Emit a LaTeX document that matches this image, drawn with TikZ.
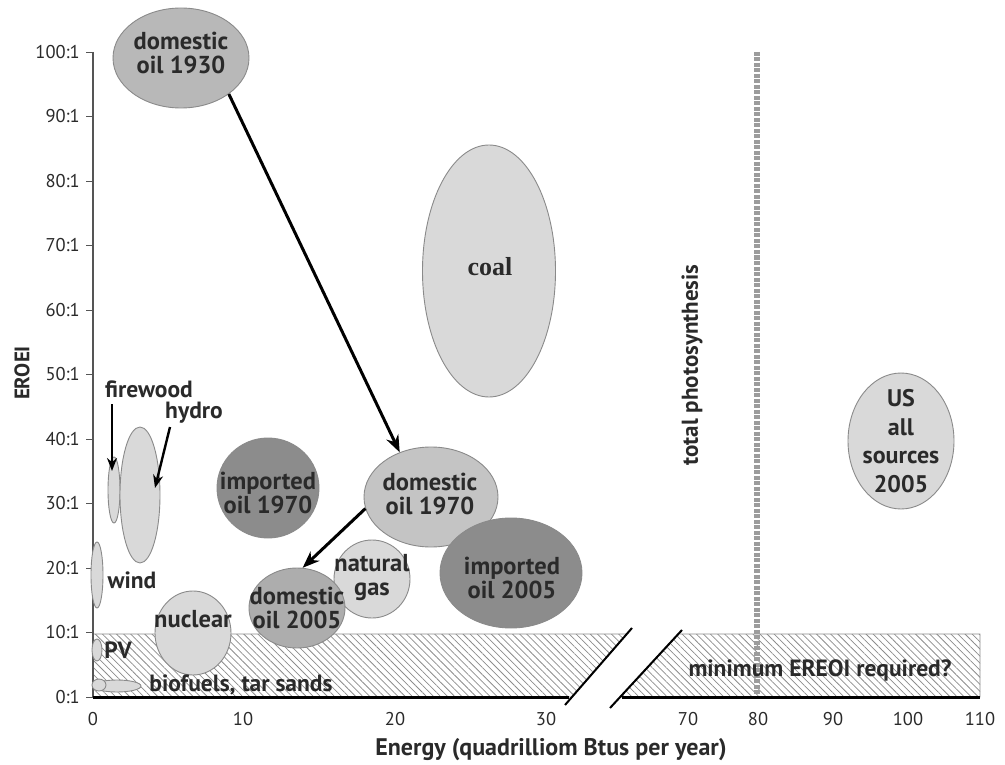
\documentclass[tikz,border=0pt]{standalone}
\usepackage{fontspec}
\setmainfont{PT Sans}
\newfontfamily\coalfont{Liberation Serif}
\usetikzlibrary{patterns.meta,arrows.meta,shapes.geometric}
\definecolor{edge}{HTML}{8A8A8A}
\definecolor{txt}{HTML}{2A2A2A}
\definecolor{light}{HTML}{D9D9D9}
\definecolor{mid}{HTML}{B8B8B8}
\definecolor{midb}{HTML}{C4C4C4}
\definecolor{midc}{HTML}{ADADAD}
\definecolor{dark}{HTML}{8C8C8C}
\definecolor{axisgray}{HTML}{555555}
\definecolor{hatchgray}{HTML}{8C8C8C}
\definecolor{dashgray}{HTML}{9C9C9C}
\tikzset{
  blob/.style={ellipse, draw=edge, line width=0.9pt, inner sep=0pt},
  lab/.style={font=\bfseries\fontsize{24.5}{24}\selectfont, align=center, text=txt, inner sep=0pt},
  olab/.style={font=\bfseries\fontsize{23.5}{24}\selectfont, text=txt, inner sep=0pt},
  tick/.style={font=\fontsize{18.5}{20}\selectfont, text=txt, inner sep=0pt},
  arr/.style={line width=3pt, -{Stealth[length=17pt,width=13pt]}},
  sarr/.style={line width=2.4pt, -{Stealth[length=13pt,width=10pt]}},
  hatch/.style={draw=hatchgray, line width=0.9pt, pattern={Lines[angle=-45,distance=5pt,line width=0.75pt]}, pattern color=hatchgray},
}
\begin{document}
\begin{tikzpicture}[x=1pt,y=-1pt]
\useasboundingbox (0,0) rectangle (1005,765);
% hatched bands
\path[hatch] (93,634) -- (627,634) -- (572,697) -- (93,697) -- cycle;
\path[hatch] (678,634) -- (980,634) -- (980,697) -- (620,697) -- cycle;
% dashed line: total photosynthesis
\draw[draw=dashgray, line width=5.5pt, dash pattern=on 4pt off 1.5pt] (757,52) -- (757,697);
% axes
\draw[axisgray, line width=2.2pt] (93,52) -- (93,698);
\foreach \v/\lbl in {0/0:1,1/10:1,2/20:1,3/30:1,4/40:1,5/50:1,6/60:1,7/70:1,8/80:1,9/90:1,10/100:1}{
  \draw[axisgray, line width=0.8pt] (86,697-64.5*\v) -- (93,697-64.5*\v);
  \node[tick, anchor=east] (yt\v) at (80,697-64.5*\v) {\lbl};
}
\draw[black, line width=3pt] (93,697) -- (569,697);
\draw[black, line width=3pt] (622,697) -- (980,697);
\coordinate (sa1) at (565,705); \coordinate (sa2) at (632,628);
\coordinate (sb1) at (610,708); \coordinate (sb2) at (682,630);
\draw[black, line width=2pt] (sa1) -- (sa2);
\draw[black, line width=2pt] (sb1) -- (sb2);
\foreach \x/\lbl in {93/0,243/10,395/20,546/30,688/70,758/80,833/90,908/100,980/110}{
  \node[tick] (xt\lbl) at (\x,719) {\lbl};
}
\node[font=\bfseries\fontsize{24}{24}\selectfont, text=txt] (xlab) at (551,750) {Energy (quadrilliom Btus per year)};
\node[font=\bfseries\fontsize{21}{22}\selectfont, text=txt, rotate=90] (ylab) at (22,373) {EROEI};
\node[font=\bfseries\fontsize{23}{24}\selectfont, text=txt, rotate=90] (photo) at (692,365) {total photosynthesis};
\node[olab] (minlab) at (820,670) {minimum EREOI required?};
% ellipses
\node[blob, fill=light, minimum width=133, minimum height=252] (coal) at (489,271) {};
\node[blob, fill=mid, minimum width=136, minimum height=100] (d1930) at (181,58) {};
\node[blob, fill=light, minimum width=12, minimum height=66] (fire) at (114,490) {};
\node[blob, fill=light, minimum width=40, minimum height=136] (hydro) at (140,495) {};
\node[blob, fill=light, minimum width=12, minimum height=66] (wind) at (97,575) {};
\node[blob, fill=light, minimum width=10, minimum height=22] (pv) at (97,650) {};
\node[blob, fill=light, minimum width=48, minimum height=12] (bio) at (117,686) {};
\node[blob, fill=light, minimum width=14, minimum height=12] (bio2) at (99,685) {};
\node[blob, fill=dark, minimum width=102, minimum height=100] (i1970) at (268,488) {};
\node[blob, fill=midb, minimum width=134, minimum height=100] (d1970) at (431,497) {};
\node[blob, fill=dark, minimum width=142, minimum height=110] (i2005) at (511,573) {};
\node[blob, fill=light, minimum width=76, minimum height=78] (gas) at (372,579) {};
\node[blob, fill=midc, minimum width=96, minimum height=80] (d2005) at (297,608) {};
\node[blob, fill=light, minimum width=76, minimum height=84] (nuc) at (193,633) {};
\node[blob, fill=light, minimum width=106, minimum height=136] (us) at (901,441) {};
% ellipse texts
\node[lab] (t1930) at (181,53) {domestic\\oil 1930};
\node[font=\coalfont\bfseries\fontsize{26}{28}\selectfont, text=txt] (tcoal) at (490,267) {coal};
\node[lab] (ti1970) at (268,493) {imported\\oil 1970};
\node[lab] (td1970) at (430,494) {domestic\\oil 1970};
\node[lab] (ti2005) at (512,578) {imported\\oil 2005};
\node[lab] (tgas) at (372,578) {natural\\gas};
\node[lab] (td2005) at (297,608) {domestic\\oil 2005};
\node[lab] (tnuc) at (193,619) {nuclear};
\node[lab, font=\bfseries\fontsize{24}{28.5}\selectfont] (tus) at (901,441) {US\\all\\sources\\2005};
% outside labels
\node[olab] (tfire) at (149,389) {firewood};
\node[olab] (thydro) at (194,413) {hydro};
\node[olab] (twind) at (132,580) {wind};
\node[olab] (tpv) at (118,650) {PV};
\node[olab] (tbio) at (241,685) {biofuels, tar sands};
% arrows
\draw[arr] (d1930.-37) -- (d1970.125);
\draw[arr] (d1970.190) -- (d2005.82);
\coordinate (firestart) at (112,404);
\coordinate (firetip) at (112,471);
\coordinate (hydrostart) at (170,427);
\coordinate (hydrotip) at (155,488);
\draw[sarr] (firestart) -- (firetip);
\draw[sarr] (hydrostart) -- (hydrotip);
\end{tikzpicture}
\end{document}
